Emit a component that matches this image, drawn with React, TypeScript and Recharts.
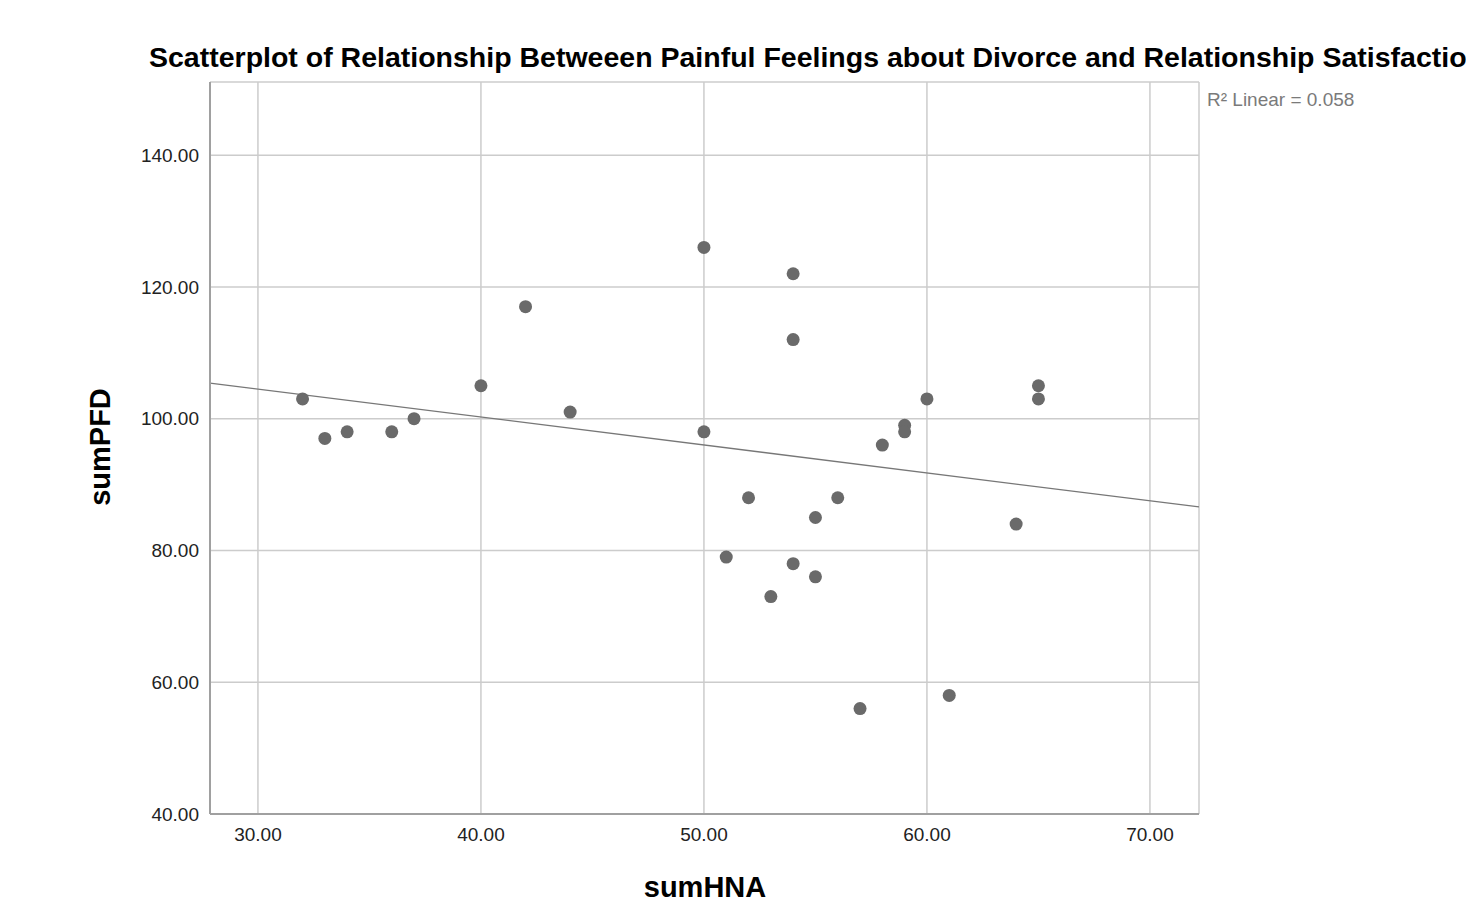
import React from 'react';
import {
  ScatterChart,
  Scatter,
  XAxis,
  YAxis,
  CartesianGrid,
  ReferenceLine,
} from 'recharts';

// sumHNA / sumPFD pairs
const sumHNA = [32, 33, 34, 36, 37, 40, 42, 44, 50, 50, 51, 52, 53, 54, 54, 54, 55, 55, 56, 57, 58, 59, 59, 60, 61, 64, 65, 65];
const sumPFD = [103, 97, 98, 98, 100, 105, 117, 101, 126, 98, 79, 88, 73, 122, 112, 78, 85, 76, 88, 56, 96, 99, 98, 103, 58, 84, 105, 103];

const xTicks = [30, 40, 50, 60, 70];
const yTicks = [40, 60, 80, 100, 120, 140];
const xDomain = [27.85, 72.2];
const yDomain = [40, 151.1];

// fit line endpoints (R² Linear = 0.058)
const fitX = [27.85, 72.2];
const fitY = [105.4, 86.6];

const points = sumHNA.map((x, i) => ({ x, y: sumPFD[i] }));

const FONT = 'Arial, "Liberation Sans", sans-serif';

export default function App() {
  return (
    <div style={{ position: 'relative', width: 1466, height: 894, overflow: 'hidden', fontFamily: FONT }}>
      {/* title runs past the right edge, as in the original export */}
      <div
        style={{
          position: 'absolute',
          left: 141,
          top: 33,
          fontSize: 28.5,
          fontWeight: 'bold',
          whiteSpace: 'nowrap',
          color: '#000',
        }}
      >
        Scatterplot of Relationship Betweeen Painful Feelings about Divorce and Relationship Satisfaction
      </div>
      <div style={{ position: 'absolute', left: 1199, top: 81, fontSize: 19, color: '#7a7a7a', whiteSpace: 'nowrap' }}>
        R² Linear = 0.058
      </div>
      <div
        style={{
          position: 'absolute',
          left: 92,
          top: 439,
          fontSize: 29,
          fontWeight: 'bold',
          transform: 'translate(-50%, -50%) rotate(-90deg)',
          whiteSpace: 'nowrap',
        }}
      >
        sumPFD
      </div>
      <div
        style={{
          position: 'absolute',
          left: 697,
          top: 879,
          fontSize: 29,
          fontWeight: 'bold',
          transform: 'translate(-50%, -50%)',
          whiteSpace: 'nowrap',
        }}
      >
        sumHNA
      </div>
      <ScatterChart
        width={1466}
        height={894}
        margin={{ top: 74, right: 275, bottom: 48, left: 142 }}
        style={{ position: 'absolute', left: 0, top: 0 }}
      >
        <CartesianGrid stroke="#cccccc" strokeWidth={1.5} />
        <XAxis
          type="number"
          dataKey="x"
          domain={xDomain}
          ticks={xTicks}
          allowDataOverflow
          tickFormatter={(v: number) => v.toFixed(2)}
          tickLine={false}
          axisLine={{ stroke: '#a0a0a0', strokeWidth: 2 }}
          tick={{ fill: '#222', fontSize: 19, fontFamily: FONT }}
          height={40}
          tickMargin={8}
        />
        <YAxis
          type="number"
          dataKey="y"
          domain={yDomain}
          ticks={yTicks}
          allowDataOverflow
          tickFormatter={(v: number) => v.toFixed(2)}
          tickLine={false}
          axisLine={{ stroke: '#a0a0a0', strokeWidth: 2 }}
          tick={{ fill: '#222', fontSize: 19, fontFamily: FONT }}
          width={60}
          tickMargin={5}
        />
        <ReferenceLine
          segment={[
            { x: fitX[0], y: fitY[0] },
            { x: fitX[1], y: fitY[1] },
          ]}
          stroke="#777"
          strokeWidth={1.3}
          ifOverflow="visible"
        />
        <Scatter
          data={points}
          fill="#6a6a6a"
          isAnimationActive={false}
          shape={(p: any) => <circle cx={p.cx} cy={p.cy} r={6.5} fill="#6a6a6a" />}
        />
      </ScatterChart>
    </div>
  );
}
